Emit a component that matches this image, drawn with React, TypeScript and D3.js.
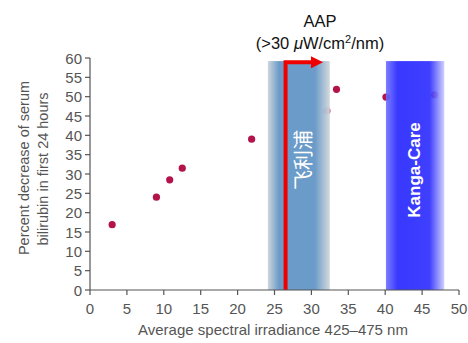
import React from "react";
import * as d3 from "d3";

const xValues = [3, 9, 10.8, 12.5, 21.9, 33.4, 40.1, 46.7, 32.1];
const yValues = [16.9, 24, 28.5, 31.5, 39, 51.9, 49.9, 50.5, 46.3];
const xTicks = [0, 5, 10, 15, 20, 25, 30, 35, 40, 45, 50];
const yTicks = [0, 5, 10, 15, 20, 25, 30, 35, 40, 45, 50, 55, 60];
const bandNames = ["飞利浦", "Kanga-Care"];
const bandStarts = [24.1, 40.1];
const bandEnds = [32.5, 48];
const arrowX = [26.5, 31.3];
const arrowTopY = 58.9;

const W = 468, H = 343;

export default function App() {
  const x = d3.scaleLinear().domain([0, 50]).range([90, 459]);
  const y = d3.scaleLinear().domain([0, 60]).range([290, 58]);
  const font = "Liberation Sans, Arial, sans-serif";
  const grey = "#555";
  const bandTop = y(59.2);

  return (
    <svg width={W} height={H} style={{ position: "absolute", left: 0, top: 0, background: "#fff" }}>
      <defs>
        <linearGradient id="g1" x1="0" x2="1" y1="0" y2="0">
          <stop offset="0" stopColor="#cdd4dc" />
          <stop offset="0.18" stopColor="#6597c6" />
          <stop offset="0.76" stopColor="#6597c6" />
          <stop offset="1" stopColor="#d3d8dd" />
        </linearGradient>
        <linearGradient id="g2" x1="0" x2="1" y1="0" y2="0">
          <stop offset="0" stopColor="#7070ff" />
          <stop offset="0.2" stopColor="#2222ff" />
          <stop offset="0.75" stopColor="#2a2aff" />
          <stop offset="1" stopColor="#c8c8ff" />
        </linearGradient>
      </defs>
      {/* points */}
      {xValues.map((v, i) => (
        <circle key={i} cx={x(v)} cy={y(yValues[i])} r={3.6} fill="#b3124a" />
      ))}
      {/* bands */}
      <rect x={x(bandStarts[0])} y={bandTop} width={x(bandEnds[0]) - x(bandStarts[0])}
        height={y(0) - bandTop} fill="url(#g1)" opacity={0.96} />
      <rect x={x(bandStarts[1])} y={bandTop} width={x(bandEnds[1]) - x(bandStarts[1])}
        height={y(0) - bandTop} fill="url(#g2)" opacity={0.9} />
      <text transform={`translate(${x((bandStarts[0] + bandEnds[0]) / 2) + 4},160) rotate(-90)`}
        textAnchor="middle" dominantBaseline="central" fill="#fff" fontSize={20}
        fontFamily="Noto Sans CJK SC, sans-serif">{bandNames[0]}</text>
      <text transform={`translate(${x((bandStarts[1] + bandEnds[1]) / 2) - 1},170) rotate(-90)`}
        textAnchor="middle" dominantBaseline="central" fill="#fff" fontSize={17} fontWeight="bold"
        fontFamily={font}>{bandNames[1]}</text>
      {/* red arrow */}
      <path d={`M${x(arrowX[0])},${y(0)} V${y(arrowTopY)} H${x(arrowX[1]) - 8}`}
        fill="none" stroke="#ee0000" strokeWidth={4} />
      <path d={`M${x(arrowX[1]) - 10},${y(arrowTopY) - 6} L${x(arrowX[1]) + 2},${y(arrowTopY)} L${x(arrowX[1]) - 10},${y(arrowTopY) + 6} Z`}
        fill="#ee0000" />
      {/* axes */}
      <line x1={90} x2={90} y1={y(60)} y2={y(0)} stroke={grey} strokeWidth={1.2} />
      <line x1={90} x2={x(50)} y1={y(0)} y2={y(0)} stroke={grey} strokeWidth={1.2} />
      {yTicks.map((t) => (
        <g key={t}>
          <line x1={85} x2={90} y1={y(t)} y2={y(t)} stroke={grey} strokeWidth={1.2} />
          <text x={82} y={y(t)} textAnchor="end" dominantBaseline="central" fontSize={15}
            fill={grey} fontFamily={font}>{t}</text>
        </g>
      ))}
      {xTicks.map((t) => (
        <g key={t}>
          <line x1={x(t)} x2={x(t)} y1={y(0)} y2={y(0) + 5} stroke={grey} strokeWidth={1.2} />
          <text x={x(t)} y={314} textAnchor="middle" fontSize={15} fill={grey} fontFamily={font}>{t}</text>
        </g>
      ))}
      <text x={273} y={335} textAnchor="middle" fontSize={15} fill={grey} fontFamily={font}>
        Average spectral irradiance 425–475 nm
      </text>
      <text transform="translate(29,168) rotate(-90)" textAnchor="middle" fontSize={14.5} fill={grey} fontFamily={font}>
        Percent decrease of serum
      </text>
      <text transform="translate(48,169) rotate(-90)" textAnchor="middle" fontSize={14.5} fill={grey} fontFamily={font}>
        bilirubin in first 24 hours
      </text>
      <text x={320} y={27} textAnchor="middle" fontSize={16.5} fill="#111" fontFamily={font}>AAP</text>
      <text x={320} y={49} textAnchor="middle" fontSize={16.5} fill="#111" fontFamily={font}>
        (&gt;30 <tspan fontStyle="italic">μ</tspan>W/cm<tspan fontSize={11} dy={-6}>2</tspan><tspan dy={6}>/nm)</tspan>
      </text>
    </svg>
  );
}
